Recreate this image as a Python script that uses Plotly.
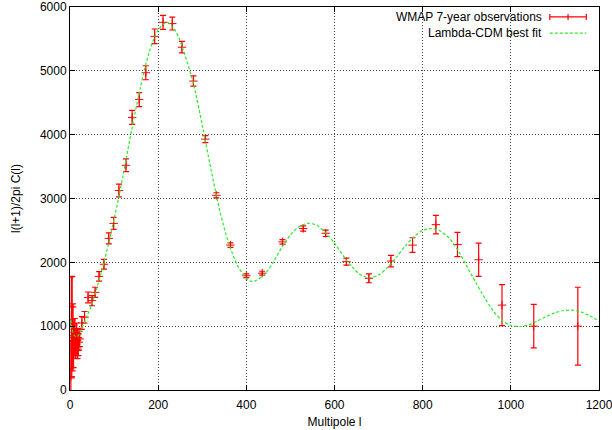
import plotly.graph_objects as go

# WMAP 7-year observations (multipole l, D_l, error)
obs_l = [2, 3, 4, 5, 6, 7, 8, 9, 10, 11, 12, 13, 14, 15, 16, 17, 18, 19, 20, 22,
         27, 33, 41, 50, 57, 66, 77, 88, 99, 111, 127, 141, 157, 172, 192, 211,
         232, 254, 280, 307, 332, 364, 400, 436, 482, 529, 580, 627, 678, 728,
         777, 830, 879, 927, 980, 1052, 1152]
obs_d = [210, 1050, 750, 1300, 700, 1000, 650, 850, 780, 900, 700, 760, 720, 880,
         780, 640, 820, 680, 750, 800,
         1050, 1140, 1450, 1400, 1530, 1780, 1970, 2375, 2610, 3125, 3520, 4270,
         4550, 4970, 5540, 5760, 5740, 5370, 4840, 3930, 3050, 2270, 1790, 1830,
         2320, 2530, 2455, 2010, 1750, 2020, 2270, 2590, 2280, 2040, 1330, 1000,
         1000]
obs_err = [560, 720, 560, 480, 400, 350, 300, 270, 240, 220, 200, 190, 180, 170,
           160, 150, 145, 140, 130, 120,
           100, 90, 85, 80, 80, 75, 75, 85, 95, 100, 100, 110, 110, 110, 115, 110,
           100, 90, 80, 55, 40, 35, 30, 30, 35, 40, 50, 55, 70, 90, 115, 145, 190,
           260, 320, 340, 610]

# Lambda-CDM best fit curve
fit_l = [2, 5, 10, 15, 20, 25, 30, 40, 50, 60, 70, 80, 90, 100, 110, 120, 140,
         160, 180, 200, 220, 240, 260, 280, 300, 320, 340, 360, 380, 400, 410,
         420, 440, 460, 480, 500, 520, 540, 560, 580, 600, 620, 640, 660, 680,
         700, 720, 740, 760, 780, 800, 820, 840, 860, 880, 900, 920, 940, 960,
         980, 1000, 1020, 1040, 1060, 1080, 1100, 1120, 1140, 1160, 1180, 1200]
fit_d = [1100, 950, 850, 830, 870, 940, 1020, 1180, 1350, 1580, 1820, 2080, 2370,
         2680, 3000, 3350, 4080, 4750, 5300, 5640, 5760, 5620, 5260, 4800, 4150,
         3450, 2800, 2300, 1950, 1750, 1705, 1710, 1800, 1990, 2230, 2430, 2560,
         2610, 2580, 2460, 2300, 2100, 1930, 1800, 1760, 1800, 1920, 2080, 2250,
         2400, 2500, 2530, 2490, 2380, 2190, 1940, 1690, 1450, 1240, 1090, 1010,
         995, 1020, 1080, 1150, 1210, 1245, 1250, 1220, 1160, 1080]

x_ticks = [0, 200, 400, 600, 800, 1000, 1200]
y_ticks = [0, 1000, 2000, 3000, 4000, 5000, 6000]

FONT = "Liberation Sans, Arial, Helvetica, sans-serif"
RED = "rgb(255,0,0)"
GREEN = "rgb(40,235,40)"

fig = go.Figure()
fig.add_trace(go.Scatter(
    x=obs_l, y=obs_d, mode="markers", name="WMAP 7-year observations",
    marker=dict(symbol="cross-thin", size=6, color=RED,
                line=dict(color=RED, width=1)),
    error_y=dict(type="data", array=obs_err, color=RED, thickness=1.2, width=3),
    showlegend=False,
))
fig.add_trace(go.Scatter(
    x=fit_l, y=fit_d, mode="lines", name="Lambda-CDM best fit",
    line=dict(color=GREEN, width=1.2, dash="3px,2px", shape="spline",
              smoothing=0.8),
    showlegend=False,
))

axis_common = dict(
    showgrid=True, gridcolor="rgba(40,40,40,0.85)", griddash="1px,2px",
    gridwidth=1,
    ticks="inside", ticklen=5, tickcolor="black", tickwidth=1,
    showline=True, linecolor="black", linewidth=1, mirror="allticks",
    zeroline=False, tickfont=dict(family=FONT, size=12, color="black"),
    ticklabeloverflow="allow", automargin=False,
)

fig.update_xaxes(range=[0, 1200], tickvals=x_ticks, ticklabelstandoff=4,
                 title=dict(text="Multipole l", standoff=6,
                            font=dict(family=FONT, size=12, color="black")),
                 **axis_common)
fig.update_yaxes(range=[0, 6000], tickvals=y_ticks,
                 title=dict(text="l(l+1)/2pi C(l)", standoff=16,
                            font=dict(family=FONT, size=12, color="black")),
                 **axis_common)

# Custom gnuplot-style key (text on the left, sample on the right)
kx_text = 0.896
kx0, kx1 = 0.907, 0.976
ky1, ky2 = 0.974, 0.932
cap = 0.008
fig.add_annotation(x=kx_text, y=ky1, xref="paper", yref="paper",
                   text="WMAP 7-year observations", showarrow=False,
                   xanchor="right", yanchor="middle",
                   font=dict(family=FONT, size=12, color="black"))
fig.add_annotation(x=kx_text, y=ky2, xref="paper", yref="paper",
                   text="Lambda-CDM best fit", showarrow=False,
                   xanchor="right", yanchor="middle",
                   font=dict(family=FONT, size=12, color="black"))
sl = dict(color=RED, width=1.2)
fig.add_shape(type="line", xref="paper", yref="paper", x0=kx0, x1=kx1,
              y0=ky1, y1=ky1, line=sl)
fig.add_shape(type="line", xref="paper", yref="paper", x0=kx0, x1=kx0,
              y0=ky1 - cap, y1=ky1 + cap, line=sl)
fig.add_shape(type="line", xref="paper", yref="paper", x0=kx1, x1=kx1,
              y0=ky1 - cap, y1=ky1 + cap, line=sl)
kxm = (kx0 + kx1) / 2
fig.add_shape(type="line", xref="paper", yref="paper", x0=kxm, x1=kxm,
              y0=ky1 - cap, y1=ky1 + cap, line=sl)
fig.add_shape(type="line", xref="paper", yref="paper", x0=kx0, x1=kx1,
              y0=ky2, y1=ky2, line=dict(color=GREEN, width=1.2, dash="3px,2px"))

fig.update_layout(
    width=612, height=430,
    margin=dict(l=70, r=13, t=7, b=40),
    paper_bgcolor="white", plot_bgcolor="white",
    font=dict(family=FONT, size=12, color="black"),
    showlegend=False,
)

fig.write_html("out.html")
